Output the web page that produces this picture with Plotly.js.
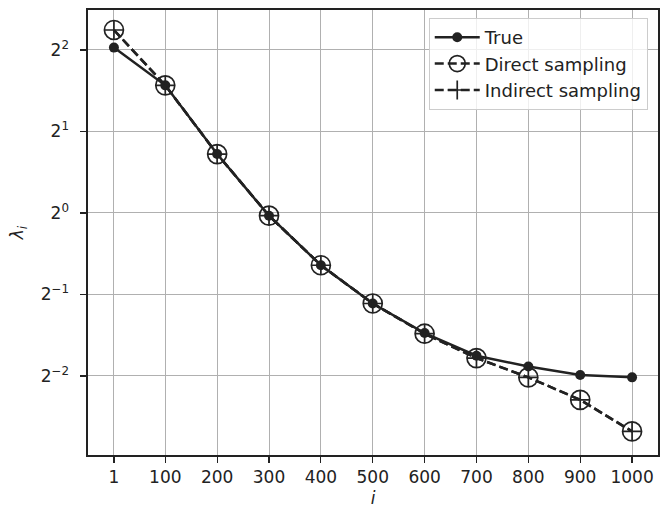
<!DOCTYPE html>
<html>
<head>
<meta charset="utf-8">
<script src="https://cdn.plot.ly/plotly-3.0.1.min.js"></script>
<style>html,body{margin:0;padding:0;background:#fff;}#chart{width:663px;height:508px;}</style>
</head>
<body>
<div id="chart"></div>
<script>
const indices = [1, 100, 200, 300, 400, 500, 600, 700, 800, 900, 1000];
const trueVals = [4.08, 2.96, 1.65, 0.977, 0.641, 0.463, 0.360, 0.297, 0.271, 0.252, 0.247];
const directVals = [4.74, 2.96, 1.65, 0.977, 0.641, 0.463, 0.358, 0.291, 0.247, 0.204, 0.156];
const indirectVals = [4.74, 2.96, 1.65, 0.977, 0.641, 0.463, 0.358, 0.291, 0.247, 0.204, 0.156];
const xTickVals = [1, 100, 200, 300, 400, 500, 600, 700, 800, 900, 1000];
const yTickVals = [0.25, 0.5, 1, 2, 4];
const yTickText = ['2<sup>\u22122</sup>', '2<sup>\u22121</sup>', '2<sup>0</sup>', '2<sup>1</sup>', '2<sup>2</sup>'];

const ink = '#222222';
const font = {family: 'DejaVu Sans, sans-serif', size: 17, color: ink};
const legendFont = {family: 'DejaVu Sans, sans-serif', size: 18, color: ink};

const traces = [
  {x: indices, y: trueVals, name: 'True', mode: 'lines+markers',
   line: {color: ink, width: 2.5},
   marker: {symbol: 'circle', size: 10, color: ink}},
  {x: indices, y: directVals, name: 'Direct sampling', mode: 'lines+markers',
   line: {color: ink, width: 2.5, dash: '9px,4px'},
   marker: {symbol: 'circle-open', size: 19, color: ink, line: {width: 1.7, color: ink}}},
  {x: indices, y: indirectVals, name: 'Indirect sampling', mode: 'lines+markers',
   line: {color: ink, width: 2.5, dash: '9px,4px'},
   marker: {symbol: 'cross-thin-open', size: 13.5, color: ink, line: {width: 1.7, color: ink}}}
];

const layout = {
  width: 663, height: 508,
  margin: {l: 88, r: 5, t: 10, b: 53},
  paper_bgcolor: '#fff', plot_bgcolor: '#fff',
  font: font,
  showlegend: true,
  legend: {x: 0.982, y: 0.982, xanchor: 'right', yanchor: 'top',
           bgcolor: 'rgba(255,255,255,0.8)', bordercolor: '#cccccc', borderwidth: 1,
           font: legendFont, itemwidth: 45},
  xaxis: {
    range: [-49, 1050], tickvals: xTickVals, ticktext: xTickVals.map(String),
    ticks: 'outside', ticklen: 6, tickwidth: 1.2, tickcolor: ink,
    showgrid: true, gridcolor: '#b0b0b0', gridwidth: 1,
    showline: true, mirror: true, linecolor: ink, linewidth: 1.6,
    zeroline: false, tickfont: font,
    title: {text: '<i>i</i>', font: font, standoff: 6}
  },
  yaxis: {
    type: 'log', range: [Math.log10(2) * -2.97, Math.log10(2) * 2.49],
    tickvals: yTickVals, ticktext: yTickText,
    ticks: 'outside', ticklen: 6, tickwidth: 1.2, tickcolor: ink,
    showgrid: true, gridcolor: '#b0b0b0', gridwidth: 1,
    showline: true, mirror: true, linecolor: ink, linewidth: 1.6,
    zeroline: false, tickfont: font, ticklabelstandoff: 8,
    title: {text: '<i>\u03bb</i><sub><i>i</i></sub>', font: font, standoff: 12}
  }
};

Plotly.newPlot('chart', traces, layout, {displayModeBar: false, staticPlot: true});
</script>
</body>
</html>
